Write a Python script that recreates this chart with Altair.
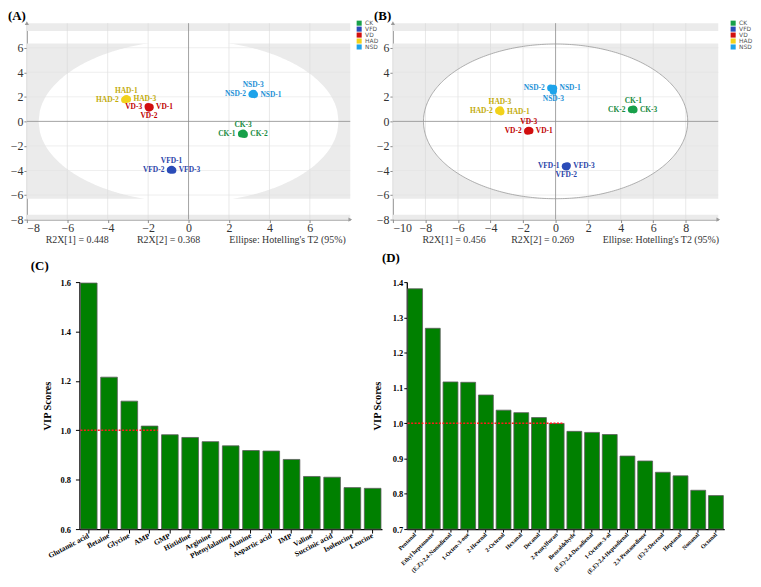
import altair as alt
import numpy as np
import pandas as pd

SERIF = "Liberation Serif"

# ---------------- data ----------------
groups = ["CK", "VFD", "VD", "HAD", "NSD"]
point_colors = ["#18a04a", "#2b4cb8", "#d10f0f", "#f2d21b", "#1ea3ea"]
text_colors = ["#178a40", "#2a44a8", "#c00000", "#c2ab0a", "#1e90d6"]

# Panel A (scores)
a_names = ["CK-1", "CK-2", "CK-3", "VFD-1", "VFD-2", "VFD-3", "VD-1", "VD-2", "VD-3",
           "HAD-1", "HAD-2", "HAD-3", "NSD-1", "NSD-2", "NSD-3"]
a_group = ["CK"] * 3 + ["VFD"] * 3 + ["VD"] * 3 + ["HAD"] * 3 + ["NSD"] * 3
a_t1 = [2.62, 2.76, 2.70, -0.84, -0.90, -0.78, -1.90, -1.96, -2.00, -3.08, -3.16, -3.02, 3.26, 3.14, 3.20]
a_t2 = [-1.02, -1.06, -0.96, -3.90, -3.97, -3.98, 1.16, 1.08, 1.20, 1.86, 1.76, 1.80, 2.18, 2.20, 2.28]
a_pos = ["left", "right", "above", "above", "left", "right", "right", "below", "left",
         "above", "left", "right", "right", "left", "above"]

# Panel B (scores)
b_names = a_names
b_group = a_group
b_t1 = [4.78, 4.66, 4.82, 0.60, 0.66, 0.72, -1.58, -1.72, -1.65, -3.36, -3.50, -3.42, -0.12, -0.30, -0.14]
b_t2 = [1.00, 0.96, 0.94, -3.66, -3.72, -3.62, -0.76, -0.80, -0.72, 0.78, 0.86, 0.94, 2.70, 2.72, 2.46]
b_pos = ["above", "left", "right", "left", "below", "right", "right", "left", "above",
         "right", "left", "above", "right", "left", "below"]

# Panel C (VIP)
c_names = ["Glutamic acid", "Betaine", "Glycine", "AMP", "GMP", "Histidine", "Arginine",
           "Phenylalanine", "Alanine", "Aspartic acid", "IMP", "Valine", "Succinic acid",
           "Isoleucine", "Leucine"]
c_vip = [1.596, 1.215, 1.118, 1.017, 0.982, 0.971, 0.954, 0.937, 0.918, 0.916, 0.882,
         0.813, 0.810, 0.768, 0.765]

# Panel D (VIP)
d_names = ["Pentanal", "Ethyl heptanoate", "(E,Z)-2,4-Nonadienal", "1-Octen-3-one", "2-Hexenal",
           "2-Octenal", "Hexanal", "Decanal", "2-Pentylfuran", "Benzaldehyde",
           "(E,E)-2,4-Decadienal", "1-Octene-3-ol", "(E,E)-2,4-Heptadienal", "2,3-Pentanedione",
           "(E)-2-Decenal", "Heptanal", "Nonanal", "Octanal"]
d_vip = [1.381, 1.269, 1.117, 1.116, 1.080, 1.037, 1.030, 1.016, 0.999, 0.977, 0.974, 0.968,
         0.907, 0.893, 0.861, 0.851, 0.810, 0.795]

ann_a = ["R2X[1] = 0.448", "R2X[2] = 0.368", "Ellipse: Hotelling's T2 (95%)"]
ann_b = ["R2X[1] = 0.456", "R2X[2] = 0.269", "Ellipse: Hotelling's T2 (95%)"]
ann_a_x = [-7.07, -2.55, 2.02]
ann_b_x = [-8.18, -2.73, 2.90]

PH = 198
BH = 249


def score_panel(t1, t2, grp, names, pos, xdom, xticks, ell_a, ell_b, outline,
                ann, ann_x, title, legend_x, width):
    xs = alt.Scale(domain=xdom, nice=False, zero=False)
    ys = alt.Scale(domain=[-8, 8], nice=False, zero=False)
    ax_common = dict(domainColor="#8a8a8a", tickColor="#8a8a8a", tickSize=3,
                     labelFont=SERIF, labelFontSize=12, labelColor="#333",
                     grid=False, title=None)
    xax = alt.Axis(values=xticks, labelPadding=0, **ax_common)
    yax = alt.Axis(values=list(range(-8, 7, 2)), labelPadding=1, **ax_common)

    def X(f):
        return alt.X(f, scale=xs, axis=xax)

    def Y(f):
        return alt.Y(f, scale=ys, axis=yax)

    shade = pd.DataFrame({"x1": [xdom[0]] * 3, "x2": [xdom[1]] * 3,
                          "y1": [-6.3, 7.37, -8.0], "y2": [6.35, 8.0, -7.6]})
    l_shade = alt.Chart(shade).mark_rect(color="#ebebeb").encode(
        x=X("x1:Q"), x2="x2:Q", y=Y("y1:Q"), y2="y2:Q")

    ex = np.linspace(-ell_a, ell_a, 241)
    ey = ell_b * np.sqrt(np.clip(1 - (ex / ell_a) ** 2, 0, 1))
    ell_df = pd.DataFrame({"ex": ex, "ey": ey, "ey2": -ey})
    l_ell = alt.Chart(ell_df).mark_area(color="white").encode(
        x=X("ex:Q"), y=Y("ey:Q"), y2="ey2:Q")

    gx = pd.DataFrame({"g": [v for v in xticks if v != 0]})
    gy = pd.DataFrame({"g": [v for v in range(-6, 7, 2) if v != 0]})
    l_gx = alt.Chart(gx).mark_rule(color="#d9d9d9", strokeWidth=0.6).encode(x=X("g:Q"))
    l_gy = alt.Chart(gy).mark_rule(color="#e2e2e2", strokeWidth=0.6).encode(y=Y("g:Q"))
    l_zx = alt.Chart(pd.DataFrame({"g": [0]})).mark_rule(color="#8c8c8c", strokeWidth=0.8).encode(x=X("g:Q"))
    l_zy = alt.Chart(pd.DataFrame({"g": [0]})).mark_rule(color="#8c8c8c", strokeWidth=0.8).encode(y=Y("g:Q"))

    # axis arrow heads at the ends of the axes
    arr_up = alt.Chart(pd.DataFrame({"ax": [xdom[0]], "ay": [8]})).mark_point(
        shape="triangle-up", filled=True, size=18, color="#9a9a9a", opacity=1).encode(
        x=X("ax:Q"), y=Y("ay:Q"))
    arr_rt = alt.Chart(pd.DataFrame({"ax": [xdom[1]], "ay": [-8]})).mark_point(
        shape="triangle-right", filled=True, size=18, color="#9a9a9a", opacity=1).encode(
        x=X("ax:Q"), y=Y("ay:Q"))

    layers = [l_shade, l_ell, l_gx, l_gy, l_zx, l_zy, arr_up, arr_rt]

    if outline:
        th = np.linspace(0, 2 * np.pi, 361)
        o_df = pd.DataFrame({"ox": ell_a * np.cos(th), "oy": ell_b * np.sin(th), "o": np.arange(361)})
        layers.append(alt.Chart(o_df).mark_line(color="#9a9a9a", strokeWidth=0.8).encode(
            x=X("ox:Q"), y=Y("oy:Q"), order="o:Q"))

    df = pd.DataFrame({"t1": t1, "t2": t2, "group": grp, "name": names, "pos": pos})
    pts = alt.Chart(df).mark_circle(size=52, opacity=1).encode(
        x=X("t1:Q"), y=Y("t2:Q"),
        color=alt.Color("group:N", scale=alt.Scale(domain=groups, range=point_colors),
                        legend=alt.Legend(orient="none", legendX=legend_x, legendY=-3, title=None,
                                          symbolType="square", symbolSize=26, symbolStrokeWidth=0,
                                          labelFontSize=6, labelFont="DejaVu Sans", labelColor="#555",
                                          rowPadding=0, labelOffset=3, padding=0, symbolOpacity=1)))
    layers.append(pts)

    offs = {"above": (0, -8, "center"), "below": (0, 8, "center"),
            "left": (-6, 0, "right"), "right": (6, 0, "left")}
    txt_layers = []
    for p, (ddx, ddy, al) in offs.items():
        txt_layers.append(alt.Chart(df).transform_filter(alt.datum.pos == p).mark_text(
            font=SERIF, fontSize=7.5, fontWeight="bold", dx=ddx, dy=ddy, align=al,
            baseline="middle").encode(
            x=X("t1:Q"), y=Y("t2:Q"), text="name:N",
            color=alt.Color("group:N", scale=alt.Scale(domain=groups, range=text_colors), legend=None)))

    ann_df = pd.DataFrame({"t": ann, "ax": ann_x})
    l_ann = alt.Chart(ann_df).mark_text(font=SERIF, fontSize=10, color="#333", align="left",
                                        baseline="middle").encode(
        x=X("ax:Q"), y=alt.value(PH + 21), text="t:N")

    base = alt.layer(*layers).properties(width=width, height=PH)
    txt = alt.layer(*txt_layers, l_ann)
    return alt.layer(base, txt).resolve_scale(color="independent").properties(
        width=width, height=PH,
        title=alt.TitleParams(title, anchor="start", frame="group", dx=-19, font=SERIF,
                              fontSize=13, fontWeight="bold", offset=-3, color="black"))


def vip_panel(names, vals, ydom, ystep, thresh_end, width, height, angle, lab_size, title,
              tdx, toff, tick_size, lab_pad, title_pad, pin, xtick, xpad):
    df = pd.DataFrame({"name": names, "vip": vals})
    ticks = list(np.round(np.arange(ydom[0], ydom[1] + 1e-9, ystep), 2))
    xs = alt.Scale(domain=names, paddingInner=pin, paddingOuter=0.05)
    ys = alt.Scale(domain=ydom, nice=False, zero=False)
    xax = alt.Axis(title=None, labelAngle=angle, labelAlign="right", labelBaseline="middle",
                   labelFont=SERIF, labelFontSize=lab_size, labelFontWeight="bold",
                   labelColor="black", domainColor="black", domainWidth=1.3, tickColor="black",
                   tickSize=xtick, labelPadding=xpad, labelOverlap=False, labelLimit=200)
    yax = alt.Axis(title="VIP Scores", values=ticks, format=".1f", labelFont=SERIF,
                   labelFontSize=8.5, labelFontWeight="bold", labelColor="black",
                   domainColor="black", domainWidth=1.3, tickColor="black", tickSize=tick_size,
                   labelPadding=lab_pad, titleFont=SERIF, titleFontSize=10.5,
                   titleFontWeight="bold", titleColor="black", titlePadding=title_pad, grid=False)
    bars = alt.Chart(df).mark_bar(color="#008000", stroke="#5c5c5c", strokeWidth=0.8).encode(
        x=alt.X("name:N", scale=xs, sort=names, axis=xax),
        y=alt.Y("vip:Q", scale=ys, axis=yax),
        y2=alt.datum(ydom[0]))
    rdf = pd.DataFrame({"name": [names[0]], "end": [thresh_end], "v": [1.0]})
    rule = alt.Chart(rdf).mark_rule(color="#ff1a1a", strokeDash=[2, 1.5], strokeWidth=1.6).encode(
        x=alt.X("name:N", scale=xs, sort=names, axis=xax, bandPosition=0),
        x2=alt.X2("end:N", bandPosition=1),
        y=alt.Y("v:Q", scale=ys, axis=yax))
    return alt.layer(bars, rule).properties(
        width=width, height=height,
        title=alt.TitleParams(title, anchor="start", frame="group", dx=tdx, font=SERIF,
                              fontSize=13, fontWeight="bold", offset=toff, color="black"))


def spacer(w, h):
    return alt.Chart(pd.DataFrame({"v": [0]})).mark_point(opacity=0).properties(width=w, height=h)


chart_a = score_panel(a_t1, a_t2, a_group, a_names, a_pos, [-8, 8], list(range(-8, 7, 2)),
                      7.42, 6.6, False, ann_a, ann_a_x, "(A)", 332, 326)
chart_b = score_panel(b_t1, b_t2, b_group, b_names, b_pos, [-10, 10], list(range(-10, 9, 2)),
                      8.12, 6.3, True, ann_b, ann_b_x, "(B)", 340, 328)

chart_c = vip_panel(c_names, c_vip, [0.6, 1.6], 0.2, "AMP", 305, BH, 332, 7.5, "(C)",
                    -49, 5, 4, 5, 8, 0.18, 4, 2)
chart_d = vip_panel(d_names, d_vip, [0.7, 1.4], 0.1, "2-Pentylfuran", 320, BH, 315, 6, "(D)",
                    -25, 13, 3, 1, 10, 0.16, 3, 1)

row1 = alt.hconcat(chart_a, chart_b, spacing=-5)
row2 = alt.hconcat(spacer(1, BH), alt.hconcat(chart_c, chart_d, spacing=-10), spacing=0)

chart = alt.vconcat(row1, row2, spacing=7).resolve_scale(
    color="independent").resolve_legend(color="independent").properties(
    padding=0, background="white").configure_view(stroke=None)

chart.save("out.html", embed_options={"renderer": "svg", "actions": False})
